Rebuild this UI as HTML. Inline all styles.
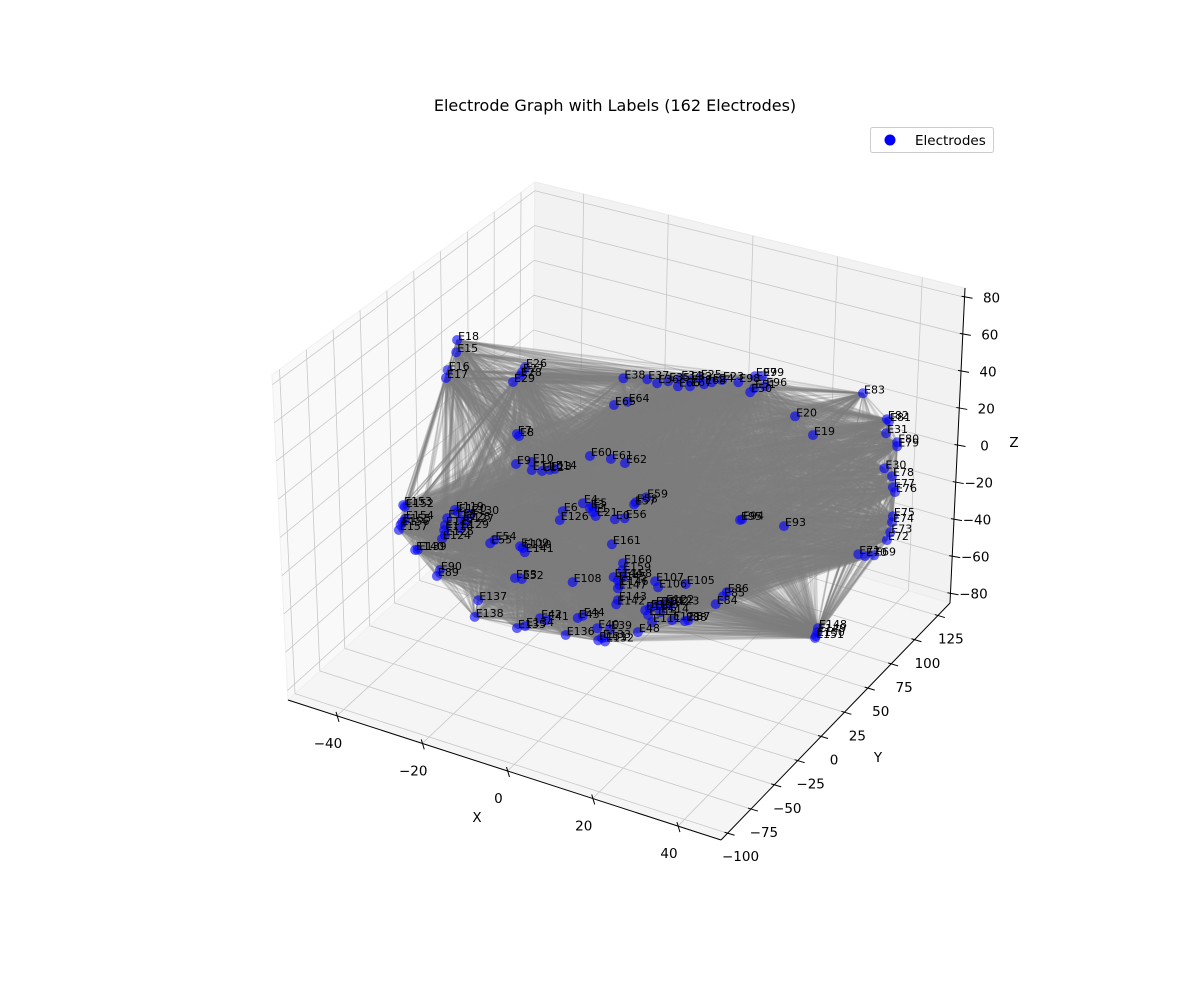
<!DOCTYPE html>
<html><head><meta charset="utf-8"><style>
html,body{margin:0;padding:0;background:#fff;}
svg{display:block;font-family:"DejaVu Sans","Liberation Sans",sans-serif;}
</style></head><body>
<svg id="chart" width="1200" height="1000" viewBox="0 0 1200 1000" xmlns="http://www.w3.org/2000/svg">
<rect width="1200" height="1000" fill="#fff"/>
<text x="615" y="111" font-size="16" text-anchor="middle" fill="#000">Electrode Graph with Labels (162 Electrodes)</text>
<g id="panes"></g><g id="grid"></g><g id="edges"></g><g id="axes"></g><g id="points"></g><g id="labels"></g>
<g>
<rect x="870.5" y="127.5" width="123" height="25" rx="2" fill="#fff" fill-opacity="0.8" stroke="#ccc"/>
<circle cx="890" cy="140" r="5.5" fill="#0000ff"/>
<text x="915" y="145" font-size="13.5" fill="#000">Electrodes</text>
</g>
</svg>
<script>
const names=["E18","E15","E16","E17","E26","E27","E28","E29","E7","E8","E148","E149","E150","E151","E9","E10","E11","E12","E13","E14","E60","E61","E62",
"E38","E65","E64","E37","E36","E35","E34","E33","E25","E24","E23","E66","E67","E68","E98","E97","E99","E96","E51","E50","E83","E20","E19","E82","E81","E31","E80","E79","E30","E78","E77","E76","E75","E74","E73","E72","E71","E70","E69","E93","E95","E94",
"E153","E152","E154","E155","E156","E157","E119","E120","E130","E118","E128","E127","E117","E116","E129","E125","E124","E139","E140","E90","E89",
"E54","E55","E109","E110","E141","E53","E52","E6","E126","E4","E5","E3","E1","E21","E0","E56","E57","E58","E59","E161","E160","E159","E158","E144","E145","E146","E147","E108","E107","E106","E105","E86","E85","E84","E143","E142",
"E137","E138","E42","E41","E135","E134","E43","E44","E136","E40","E39","E131","E132","E133","E48","E122","E102","E104","E103","E112","E113","E111","E114","E121","E88","E87","E123"];
const xs=[-47.5,-47.7,-49.7,-50.1,-31.6,-32.3,-32.8,-34.4,-33.5,-33.0,37.0,36.8,36.5,36.3,-33.7,-30.0,-30.0,-27.6,-25.8,-24.6,-16.4,-11.5,-8.2,
-17.1,-19.3,-16.1,-11.5,-9.2,-6.6,-3.8,-1.5,0.8,3.6,6.0,-4.3,-1.5,1.8,9.8,13.7,15.4,16.1,13.5,12.6,39.0,23.1,27.3,44.6,45.1,44.4,47.0,47.0,44.0,45.8,46.0,46.5,46.0,45.8,45.4,44.6,37.9,39.5,41.6,20.5,10.2,10.7,
-51.6,-51.2,-51.2,-51.8,-52.2,-52.6,-39.5,-38.8,-35.9,-41.3,-37.9,-37.1,-41.8,-42.0,-38.3,-41.8,-42.5,-48.2,-48.8,-43.0,-43.7,
-28.1,-29.1,-22.1,-21.5,-21.0,-23.3,-21.7,-12.1,-12.8,-7.4,-5.2,-5.8,-5.0,-4.4,0.1,2.4,4.6,5.0,7.4,-0.6,2.0,1.8,2.0,-0.2,0.8,1.2,0.8,-9.8,9.5,10.2,16.7,26.3,25.4,23.7,0.8,0.4,
-17.0,-17.8,-2.5,-0.9,-7.9,-6.0,6.3,7.5,3.5,10.9,13.9,11.1,12.7,12.0,20.4,26.8,25.6,24.4,23.2,22.1,22.8,23.7,25.6,28.4,31.4,32.2,28.0];
const ys=[60,60,60,60,60,60,60,60,60,60,60,60,60,60,60,60,60,60,60,60,60,60,60,
100,100,100,100,100,100,100,100,100,100,100,100,100,100,100,100,100,100,100,100,100,100,100,100,100,100,100,100,100,100,100,100,100,100,100,100,100,100,100,100,100,100,
20,20,20,20,20,20,20,20,20,20,20,20,20,20,20,20,20,20,20,20,20,
10,10,10,10,10,10,10,10,10,10,10,10,10,10,10,10,10,10,10,10,10,10,10,10,10,10,10,10,10,10,10,10,10,10,10,10,
-60,-60,-60,-60,-60,-60,-60,-60,-60,-60,-60,-60,-60,-60,-60,-60,-60,-60,-60,-60,-60,-60,-60,-60,-60,-60,-60];
const zs=[22.3,15.7,4.7,0.2,19.7,16.5,14.1,9.7,-17.2,-18.0,-68,-70.3,-72.6,-73.8,-33.3,-29.5,-33.8,-32.5,-30.6,-29.2,-16.2,-14.2,-13.9,
3.7,-12.1,-8.1,7.4,7.0,10,13.1,14.3,17.1,17,19.9,9,11.1,14.6,21.6,27.7,29,24.2,21.2,18.4,37.4,13.4,6.5,27.8,27.1,20.2,17.3,15.2,1.3,-1.6,-7.3,-9.5,-22.7,-26,-31.7,-36.4,-48.9,-48.7,-46.7,-46.9,-51.3,-50.6,
-47.6,-48.3,-54.7,-56.8,-58.6,-61.6,-41.2,-41.8,-40.8,-46.9,-45.3,-45.9,-51,-53.8,-50,-56.3,-58.9,-68.9,-69.4,-75.7,-79.4,
-43.5,-46,-42.4,-42.9,-44.7,-60.2,-59.5,-16.3,-21.6,-8.6,-8.6,-10,-11.6,-13.2,-11.5,-9.3,-0.3,1.1,5.5,-25.3,-33.5,-37.4,-40.9,-42.5,-43.4,-45.7,-47.7,-52.3,-37.5,-40.2,-33.7,-30.8,-33.7,-39.1,-54,-56.5,
-30.8,-40.3,-29.6,-29.4,-38.9,-36.4,-23,-21,-34.1,-25,-23.2,-31.2,-30.7,-29.4,-20,0.1,-1.8,-2.7,-5.1,-7.1,-9.2,-12.3,-5.6,-7.7,-6,-4.9,0.4];
const xTicks=[-40,-20,0,20,40];
const yTicks=[-100,-75,-50,-25,0,25,50,75,100,125];
const zTicks=[-80,-60,-40,-20,0,20,40,60,80];

const XMIN=-51.5,XMAX=50.1,YMIN=-107,YMAX=138,ZMIN=-85,ZMAX=85;
const NS="http://www.w3.org/2000/svg";
function nx(x){return (x-XMIN)/(XMAX-XMIN);}
function ny(y){return (y-YMIN)/(YMAX-YMIN);}
function nz(z){return (z-ZMIN)/(ZMAX-ZMIN);}
const C={c000:[288,700],c100:[721,840],c110:[950,603],c010:[532,478],c001:[272,375],c101:[737,495],c111:[965,288],c011:[535,182]};
function boxProj(x,y,z){
  const u=nx(x),v=ny(y),w=nz(z);const r=[0,0];
  for(let k=0;k<2;k++){
    const a=C.c000[k]*(1-u)+C.c100[k]*u, b=C.c010[k]*(1-u)+C.c110[k]*u;
    const c=C.c001[k]*(1-u)+C.c101[k]*u, d=C.c011[k]*(1-u)+C.c111[k]*u;
    const lo=a*(1-v)+b*v, hi=c*(1-v)+d*v; r[k]=lo*(1-w)+hi*w;
  }
  return r;
}
function proj(x,y,z){
  const u=nx(x),v=ny(y),w=nz(z);
  return [288+434*u+223*v, 700+142*u-240*v-320*w];
}
function el(tag,attrs,parent){const e=document.createElementNS(NS,tag);for(const k in attrs)e.setAttribute(k,attrs[k]);parent.appendChild(e);return e;}
const panes=document.getElementById('panes'),grid=document.getElementById('grid'),edges=document.getElementById('edges'),axes=document.getElementById('axes'),pts=document.getElementById('points'),labs=document.getElementById('labels');
function poly(ptsArr){return ptsArr.map(p=>p[0].toFixed(1)+','+p[1].toFixed(1)).join(' ');}
let p;
p=el('polygon',{points:poly([boxProj(XMIN,YMIN,ZMIN),boxProj(XMAX,YMIN,ZMIN),boxProj(XMAX,YMAX,ZMIN),boxProj(XMIN,YMAX,ZMIN)]),fill:'#f5f5f5',stroke:'#f0f0f0'},panes);


p=el('polygon',{points:poly([boxProj(XMIN,YMIN,ZMIN),boxProj(XMIN,YMAX,ZMIN),boxProj(XMIN,YMAX,ZMAX),boxProj(XMIN,YMIN,ZMAX)]),fill:'#f9f9f9',stroke:'#f0f0f0'},panes);


p=el('polygon',{points:poly([boxProj(XMIN,YMAX,ZMIN),boxProj(XMAX,YMAX,ZMIN),boxProj(XMAX,YMAX,ZMAX),boxProj(XMIN,YMAX,ZMAX)]),fill:'#f2f2f2',stroke:'#ebebeb'},panes);


function gline(a,b,name){const l=el('line',{x1:a[0],y1:a[1],x2:b[0],y2:b[1],stroke:'#c8c8c8','stroke-width':0.8},grid);

}
xTicks.forEach(t=>{gline(boxProj(t,YMIN,ZMIN),boxProj(t,YMAX,ZMIN),'x-gridline');gline(boxProj(t,YMAX,ZMIN),boxProj(t,YMAX,ZMAX),'x-gridline');});
yTicks.forEach(t=>{gline(boxProj(XMIN,t,ZMIN),boxProj(XMAX,t,ZMIN),'y-gridline');gline(boxProj(XMIN,t,ZMIN),boxProj(XMIN,t,ZMAX),'y-gridline');});
zTicks.forEach(t=>{gline(boxProj(XMIN,YMIN,t),boxProj(XMIN,YMAX,t),'z-gridline');gline(boxProj(XMIN,YMAX,t),boxProj(XMAX,YMAX,t),'z-gridline');});
const P=names.map((n,i)=>proj(xs[i],ys[i],zs[i]));
const frag=document.createDocumentFragment();
for(let i=0;i<P.length;i++)for(let j=i+1;j<P.length;j++){
  const l=document.createElementNS(NS,'line');
  l.setAttribute('x1',P[i][0].toFixed(1));l.setAttribute('y1',P[i][1].toFixed(1));
  l.setAttribute('x2',P[j][0].toFixed(1));l.setAttribute('y2',P[j][1].toFixed(1));
  
  
  frag.appendChild(l);
}
edges.setAttribute('stroke','#808080');edges.setAttribute('stroke-opacity','0.22');edges.setAttribute('stroke-width','1.3');
edges.appendChild(frag);
function aline(a,b,name){const l=el('line',{x1:a[0],y1:a[1],x2:b[0],y2:b[1],stroke:'#000','stroke-width':1},axes);

}
function atext(x,y,s,name,anchor){const t=el('text',{x:x,y:y,'font-size':13.5,'text-anchor':anchor||'middle',fill:'#000'},axes);t.textContent=s;

}
aline(boxProj(XMIN,YMIN,ZMIN),boxProj(XMAX,YMIN,ZMIN),'x-axis-line');
aline(boxProj(XMAX,YMIN,ZMIN),boxProj(XMAX,YMAX,ZMIN),'y-axis-line');
aline(boxProj(XMAX,YMAX,ZMIN),boxProj(XMAX,YMAX,ZMAX),'z-axis-line');
function fmt(v){return v<0?'\u2212'+Math.abs(v):String(v);}
xTicks.forEach(t=>{const a=boxProj(t,YMIN,ZMIN);aline([a[0]-1,a[1]-4],[a[0]+2,a[1]+6],'x-tick');atext(a[0]-9,a[1]+32,fmt(t),'x-tick-label');});
yTicks.forEach(t=>{const a=boxProj(XMAX,t,ZMIN);aline([a[0]-3,a[1]-1],[a[0]+7,a[1]+2],'y-tick');atext(a[0]+13,a[1]+28,fmt(t),'y-tick-label');});
zTicks.forEach(t=>{const a=boxProj(XMAX,YMAX,t);aline([a[0]-3,a[1]-1],[a[0]+8,a[1]+1],'z-tick');atext(a[0]+27+(t<0?-4:0),a[1]+5,fmt(t),'z-tick-label');});
atext(477,822,'X','x-axis-title');atext(878,762,'Y','y-axis-title');atext(1014,447,'Z','z-axis-title');
P.forEach((q,i)=>{
  const c=el('circle',{cx:q[0].toFixed(1),cy:q[1].toFixed(1),r:5,fill:'#0000ff','fill-opacity':0.6},pts);
  
  
  const t=el('text',{x:(q[0]+1).toFixed(1),y:q[1].toFixed(1),'font-size':11,fill:'#000'},labs);
  t.textContent=names[i];
  
  
});
</script>
</body></html>
